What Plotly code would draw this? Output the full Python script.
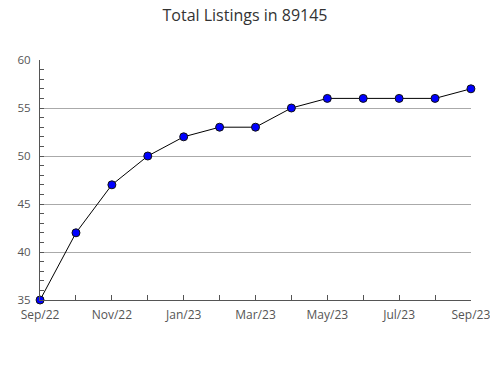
import plotly.graph_objects as go

months = ["Sep/22", "Oct/22", "Nov/22", "Dec/22", "Jan/23", "Feb/23", "Mar/23",
          "Apr/23", "May/23", "Jun/23", "Jul/23", "Aug/23", "Sep/23"]
listings = [35, 42, 47, 50, 52, 53, 53, 55, 56, 56, 56, 56, 57]
tick_labels = [m if i % 2 == 0 else "" for i, m in enumerate(months)]
x_idx = list(range(len(months)))

fig = go.Figure()
fig.add_trace(go.Scatter(
    x=x_idx, y=listings, mode="lines+markers",
    line=dict(color="black", width=1),
    marker=dict(color="#0000ff", size=8, line=dict(color="#111111", width=1)),
    cliponaxis=False, hoverinfo="skip"))

fig.update_layout(
    width=490, height=380,
    margin=dict(l=40, r=19, t=60, b=80),
    paper_bgcolor="white", plot_bgcolor="white",
    showlegend=False,
    font=dict(family="Open Sans, sans-serif", color="#555555", size=12),
    title=dict(text="Total Listings in 89145", x=0.5, xanchor="center",
               y=0.96, yanchor="middle",
               font=dict(size=16, color="#333333")),
    xaxis=dict(range=[-0.002, 12.002], tickvals=x_idx, ticktext=tick_labels,
               ticks="inside", ticklen=5, tickcolor="#555555",
               showgrid=False, zeroline=False, automargin=False,
               showline=True, linecolor="#555555", linewidth=1,
               tickangle=0, ticklabelstandoff=4, ticklabeloverflow="allow",
               tickfont=dict(size=12, color="#555555")),
    yaxis=dict(range=[35, 60], dtick=5, tick0=35, automargin=False,
               ticks="inside", ticklen=4, tickcolor="#555555",
               showgrid=True, gridcolor="#aaaaaa", gridwidth=1,
               zeroline=False, showline=True, linecolor="#555555", linewidth=1,
               ticklabelstandoff=6,
               minor=dict(ticks="inside", dtick=1, ticklen=4, tickcolor="#555555", showgrid=False),
               tickfont=dict(size=11.5, color="#555555")),
)

fig.write_html("out.html")
